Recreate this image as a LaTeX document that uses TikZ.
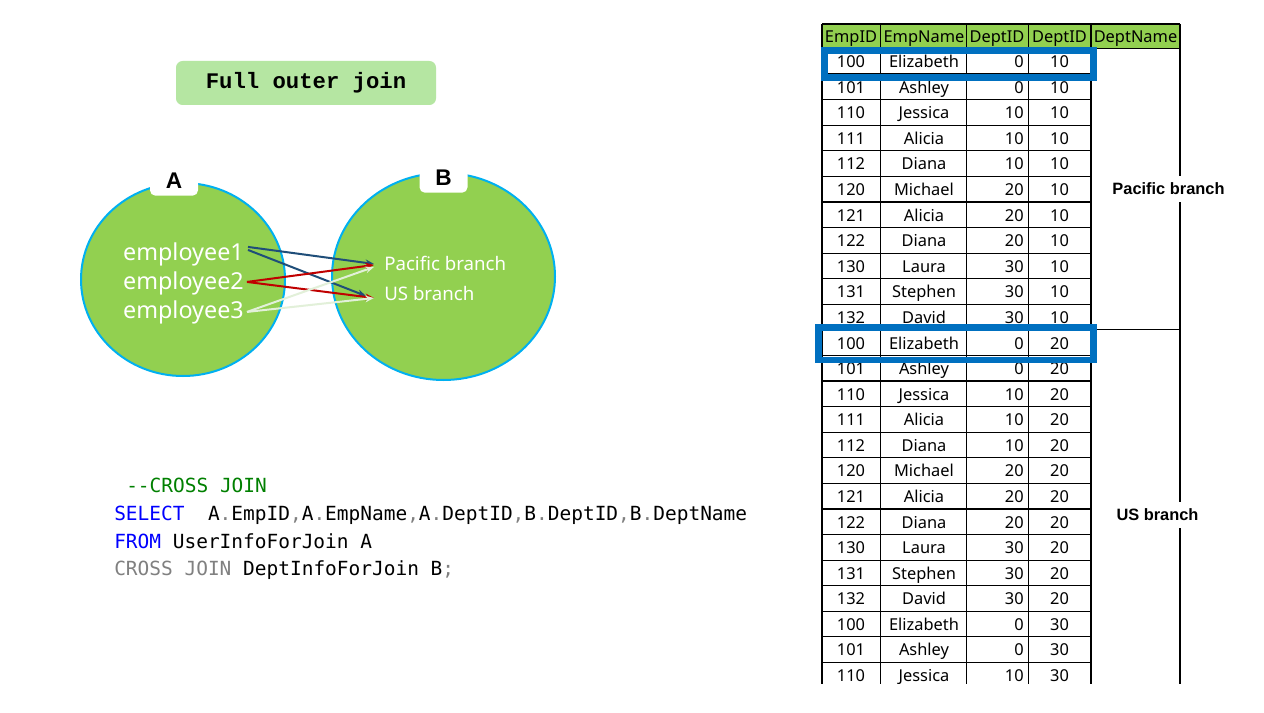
\documentclass[tikz,border=0pt]{standalone}
\usepackage{fontspec}
\setmainfont{Noto Sans}
\newfontfamily\codefont{DejaVu Sans Mono}
\newfontfamily\titlefont{Liberation Mono}
\newfontfamily\lblfont{Liberation Sans}
\usetikzlibrary{arrows.meta,shapes.geometric,calc}
\definecolor{vgreen}{HTML}{92D050}
\definecolor{vblue}{HTML}{00B0F0}
\definecolor{titlegreen}{HTML}{B5E6A2}
\definecolor{hlblue}{HTML}{0070C0}
\definecolor{arrblue}{HTML}{1F4E79}
\definecolor{arrred}{HTML}{C00000}
\definecolor{arrlight}{HTML}{E2F0D9}
\definecolor{sqlgreen}{HTML}{008000}
\definecolor{sqlblue}{HTML}{0000FF}
\definecolor{sqlgray}{HTML}{808080}
\newcommand{\sqldot}{\textcolor{sqlgray}{.}}
\newcommand{\sqlcomma}{\textcolor{sqlgray}{,}}
\begin{document}
\begin{tikzpicture}[x=0.75pt,y=-0.75pt,
  every node/.style={inner sep=0pt},
  venn/.style={ellipse, draw=vblue, fill=vgreen, line width=1.5pt, inner sep=0pt},
  lblbox/.style={fill=white, rounded corners=4pt, minimum width=36pt, minimum height=22pt, font=\lblfont\bfseries\fontsize{17}{19}\selectfont},
  emp/.style={text=white, font=\fontsize{17.5}{20}\selectfont, anchor=base east},
  br/.style={text=white, font=\fontsize{14}{16}\selectfont, anchor=base west},
  conn/.style={line width=1.5pt, -{Stealth[length=6.5pt,width=5pt]}},
  code/.style={anchor=base west, font=\codefont\fontsize{14.6}{17}\selectfont},
  cell/.style={font=\fontsize{12.3}{14}\selectfont, text height=9pt, text depth=2.5pt},
  tgrid/.style={line width=0.9pt, black},
  hl/.style={draw=hlblue, line width=4.8pt},
  grp/.style={fill=white, inner sep=5pt, font=\lblfont\bfseries\fontsize{12.3}{14}\selectfont}]
\useasboundingbox[fill=white] (0,0) rectangle (1264,713);

% title
\node[fill=titlegreen, rounded corners=5pt, minimum width=195pt, minimum height=33pt,
      font=\titlefont\bfseries\fontsize{16.7}{19}\selectfont] (title) at (306,83) {Full outer join};

% venn circles
\node[venn, minimum width=153pt, minimum height=144.75pt] (va) at (183,279.5) {};
\node[venn, minimum width=167.25pt, minimum height=155.25pt] (vb) at (443.5,276.5) {};
\node[lblbox] (la) at (174,181) {A};
\node[lblbox] (lb) at (443.5,178) {B};

% texts inside circles
\node[emp] (e1) at (244,260) {employee1};
\node[emp] (e2) at (244,289) {employee2};
\node[emp] (e3) at (244,318) {employee3};
\node[br] (pb) at (384,271) {Pacific branch};
\node[br] (us) at (384,300) {US branch};

% connectors
\draw[conn, arrblue] ($(e1.east)+(4,-7)$) -- ($(pb.west)+(-10,0)$);
\draw[conn, arrblue] ($(e1.east)+(4,-4)$) -- ($(us.west)+(-18,3)$);
\draw[conn, arrred] ($(e2.east)+(3,-1)$) -- ($(pb.west)+(-10,1)$);
\draw[conn, arrred] ($(e2.east)+(3,-1)$) -- ($(us.west)+(-10,5)$);
\draw[conn, arrlight] ($(e3.east)+(3,0)$) -- ($(pb.west)+(-10,3)$);
\draw[conn, arrlight] ($(e3.east)+(3,0)$) -- ($(us.west)+(-10,5)$);

% SQL code
\node[code, text=sqlgreen] (c1) at (126,492) {--CROSS JOIN};
\node[code] (c2) at (114,520) {\textcolor{sqlblue}{SELECT}\ \ A\sqldot EmpID\sqlcomma A\sqldot EmpName\sqlcomma A\sqldot DeptID\sqlcomma B\sqldot DeptID\sqlcomma B\sqldot DeptName};
\node[code] (c3) at (114,548) {\textcolor{sqlblue}{FROM} UserInfoForJoin A};
\node[code] (c4) at (114,575) {\textcolor{sqlgray}{CROSS JOIN} DeptInfoForJoin B\textcolor{sqlgray}{;}};

% table
\begin{scope}
\clip (800,0) rectangle (1264,683);
\fill[vgreen] (822,24) rectangle (1180,48.5);
\node[cell] (h1) at (851,38.5) {EmpID};
\node[cell] (h2) at (924,38.5) {EmpName};
\node[cell] (h3) at (997,38.5) {DeptID};
\node[cell] (h4) at (1059.5,38.5) {DeptID};
\node[cell] (h5) at (1135.5,38.5) {DeptName};
\draw[tgrid] (822,24) -- (1180,24);
\draw[tgrid] (822,48.5) -- (1180,48.5);
\foreach \k in {2,...,25} {
  \draw[tgrid] (822,{48.5+25.58*(\k-1)}) -- (1091,{48.5+25.58*(\k-1)});
}
\draw[tgrid] (1091,{48.5+25.58*11}) -- (1180,{48.5+25.58*11});
\foreach \xx in {822,880.5,966.5,1028.5,1091,1180} {
  \draw[tgrid] (\xx,24) -- (\xx,690);
}
\foreach \id/\nm/\da/\db [count=\k] in {
  100/Elizabeth/0/10, 101/Ashley/0/10, 110/Jessica/10/10, 111/Alicia/10/10,
  112/Diana/10/10, 120/Michael/20/10, 121/Alicia/20/10, 122/Diana/20/10,
  130/Laura/30/10, 131/Stephen/30/10, 132/David/30/10,
  100/Elizabeth/0/20, 101/Ashley/0/20, 110/Jessica/10/20, 111/Alicia/10/20,
  112/Diana/10/20, 120/Michael/20/20, 121/Alicia/20/20, 122/Diana/20/20,
  130/Laura/30/20, 131/Stephen/30/20, 132/David/30/20,
  100/Elizabeth/0/30, 101/Ashley/0/30, 110/Jessica/10/30} {
  \pgfmathsetmacro{\yc}{48.5+25.58*(\k-1)+14.8}
  \node[cell] (id\k) at (851,\yc) {\id};
  \node[cell] (nm\k) at (924,\yc) {\nm};
  \node[cell, anchor=east] (da\k) at (1024,\yc) {\da};
  \node[cell] (db\k) at (1059.5,\yc) {\db};
}
\node[grp] (gpac) at (1168.5,189) {Pacific branch};
\node[grp] (gus) at (1157.5,515) {US branch};
\end{scope}

% highlight frames
\draw[hl] (824.5,50.5) rectangle (1093.5,77.5);
\draw[hl] (818.5,327.5) rectangle (1093.5,360);
\end{tikzpicture}
\end{document}
